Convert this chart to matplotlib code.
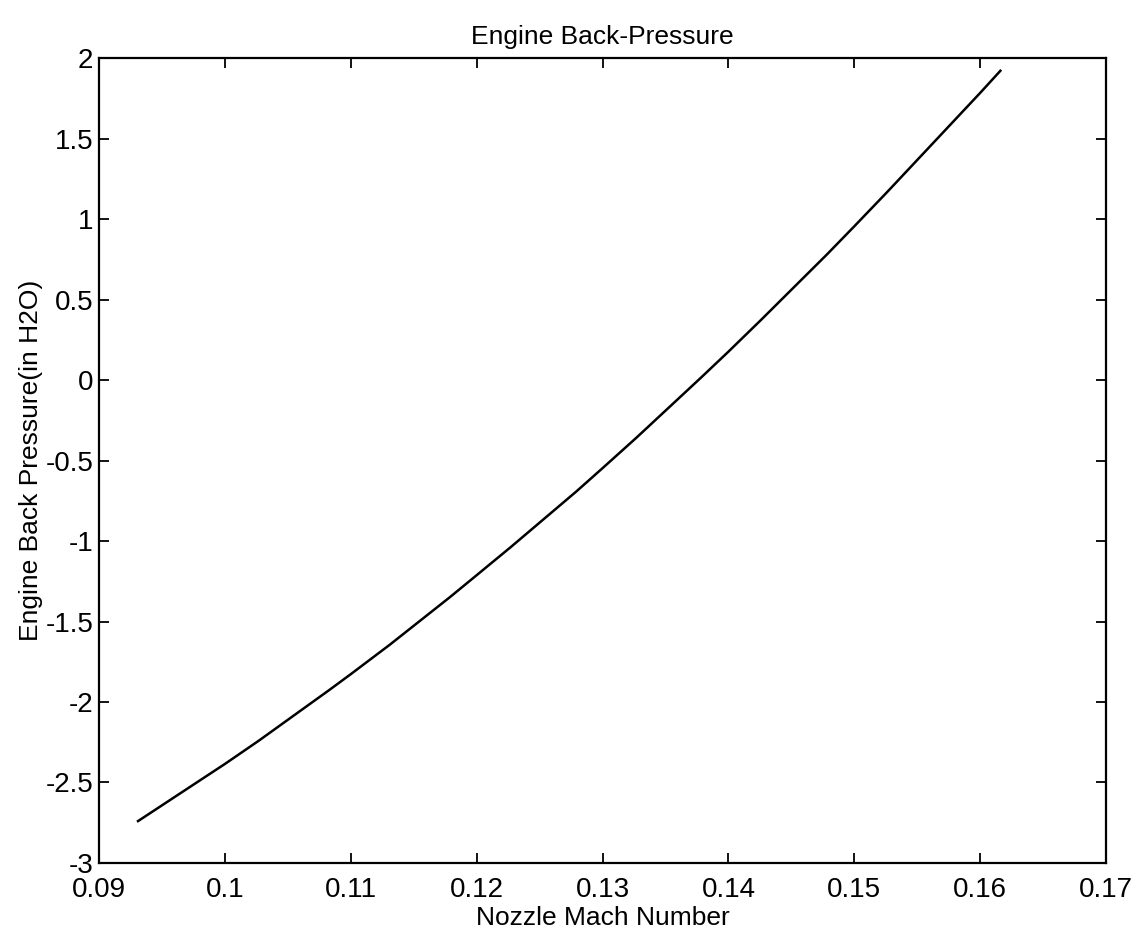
import matplotlib
matplotlib.use("Agg")
import matplotlib.pyplot as plt

plt.rcParams['font.family'] = ['Liberation Sans', 'DejaVu Sans']

mach = [0.0931, 0.0979, 0.1000, 0.1027, 0.1083, 0.1100, 0.1131, 0.1179, 0.1200,
        0.1227, 0.1279, 0.1300, 0.1327, 0.1378, 0.1400, 0.1426, 0.1478, 0.1500,
        0.1526, 0.1600, 0.1616]
pressure = [-2.74, -2.493, -2.385, -2.24, -1.925, -1.827, -1.644, -1.347, -1.212,
            -1.038, -0.693, -0.547, -0.357, 0.014, 0.177, 0.375, 0.779, 0.956,
            1.168, 1.785, 1.922]

xticks = [0.09, 0.10, 0.11, 0.12, 0.13, 0.14, 0.15, 0.16, 0.17]
xticklabels = ['0.09', '0.1', '0.11', '0.12', '0.13', '0.14', '0.15', '0.16', '0.17']
yticks = [-3, -2.5, -2, -1.5, -1, -0.5, 0, 0.5, 1, 1.5, 2]
yticklabels = ['-3', '-2.5', '-2', '-1.5', '-1', '-0.5', '0', '0.5', '1', '1.5', '2']

fig = plt.figure(figsize=(11.38, 9.39), dpi=100)
ax = fig.add_axes([0.087, 0.081, 0.885, 0.857])
ax.plot(mach, pressure, color='black', linewidth=1.8, solid_joinstyle='round')
ax.set_xlim(0.09, 0.17)
ax.set_ylim(-3, 2)
ax.set_xticks(xticks)
ax.set_xticklabels(xticklabels)
ax.set_yticks(yticks)
ax.set_yticklabels(yticklabels)
ax.tick_params(direction='in', length=7, width=1.3, top=True, right=True,
               labelsize=20)
ax.tick_params(axis='x', pad=10)
ax.tick_params(axis='y', pad=4)
for s in ax.spines.values():
    s.set_linewidth(1.6)
ax.set_title('Engine Back-Pressure', fontsize=19, pad=10)
ax.set_xlabel('Nozzle Mach Number', fontsize=19, labelpad=2)
ax.set_ylabel('Engine Back Pressure(in H2O)', fontsize=19, labelpad=2)

fig.savefig('out.png', dpi=100)
